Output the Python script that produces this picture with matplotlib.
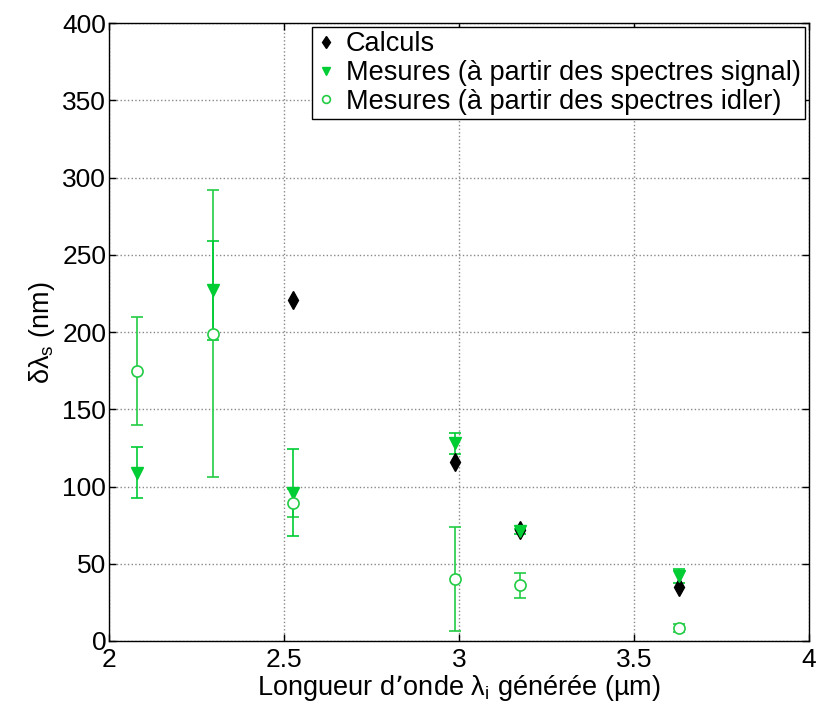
import matplotlib
matplotlib.use('Agg')
import matplotlib.pyplot as plt

plt.rcParams['font.family'] = ['Liberation Sans', 'DejaVu Sans']
plt.rcParams['mathtext.default'] = 'regular'

# Calculated values
x_calc = [2.527, 2.99, 3.175, 3.63]
y_calc = [221, 116, 72, 35]

# Measurements from signal spectra
x_sig = [2.08, 2.298, 2.527, 2.99, 3.175, 3.63]
y_sig = [109, 227, 96, 128, 71, 42]
err_sig = [16.5, 32, 28, 7, 1.5, 4.5]

# Measurements from idler spectra
x_idl = [2.08, 2.298, 2.527, 2.99, 3.175, 3.63]
y_idl = [175, 199, 89.5, 40, 36, 8.5]
err_idl = [35, 93, 9, 33.5, 8.3, 2.6]

green = '#00cc33'
green2 = '#22cc44'

fig = plt.figure(figsize=(8.17, 7.02), dpi=100)
ax = fig.add_axes([0.1334, 0.0869, 0.8566, 0.88])

ax.errorbar(x_idl, y_idl, yerr=err_idl, fmt='none', ecolor=green2,
            elinewidth=1.2, capsize=4.3, capthick=1.2, zorder=2)
ax.errorbar(x_sig, y_sig, yerr=err_sig, fmt='none', ecolor=green,
            elinewidth=1.2, capsize=4.3, capthick=1.2, zorder=2)
ax.plot(x_calc, y_calc, 'kd', markersize=9, linestyle='none', zorder=3,
        label='Calculs')
ax.plot(x_sig, y_sig, 'v', color=green, markersize=8, linestyle='none',
        zorder=4, label='Mesures (à partir des spectres signal)')
ax.plot(x_idl, y_idl, 'o', color=green2, mfc='white', markersize=8,
        mew=1.2, linestyle='none', zorder=4,
        label='Mesures (à partir des spectres idler)')

ax.set_xlim(2, 4)
ax.set_ylim(0, 400)
ax.set_xticks([2, 2.5, 3, 3.5, 4])
ax.set_xticklabels(['2', '2.5', '3', '3.5', '4'])
ax.set_yticks(range(0, 401, 50))
ax.tick_params(direction='in', top=True, right=True, labelsize=19,
               length=5, width=1, pad=2)
ax.tick_params(axis='x', pad=5)
ax.grid(True, linestyle=':', color='#888888', linewidth=1)
for s in ax.spines.values():
    s.set_linewidth(1)

ax.set_xlabel('Longueur d’onde λ$_{i}$ générée (µm)', fontsize=19.5,
              labelpad=1)
ax.set_ylabel('δλ$_{s}$ (nm)', fontsize=19.5, labelpad=4)

leg = ax.legend(loc='upper right', fontsize=19.5, markerscale=0.7,
                handlelength=0.7, handletextpad=0.4, labelspacing=0.1,
                borderaxespad=0.15, fancybox=False, framealpha=1,
                edgecolor='black', borderpad=0.15)
leg.get_frame().set_linewidth(1)

plt.savefig('out.png', dpi=100)
